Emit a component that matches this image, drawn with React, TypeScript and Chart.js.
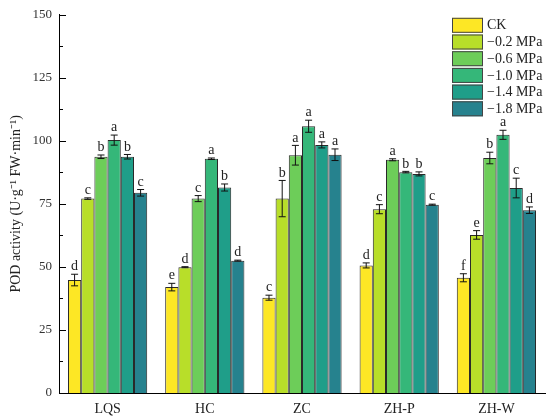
import React, { useRef, useEffect } from 'react';
import { Chart, registerables, Plugin } from 'chart.js';

Chart.register(...registerables);

const cultivars = ['LQS', 'HC', 'ZC', 'ZH-P', 'ZH-W'];
const treatments = ['CK', '\u22120.2 MPa', '\u22120.6 MPa', '\u22121.0 MPa', '\u22121.4 MPa', '\u22121.8 MPa'];
const colors = ['#FDE725', '#B8DE29', '#6DCD59', '#35B779', '#1F9E89', '#26828E'];

// values per treatment, one entry per cultivar
const ckValues = [44.8, 42.0, 37.8, 50.6, 45.7];
const mpa02Values = [77.1, 49.9, 77.1, 72.9, 62.7];
const mpa06Values = [93.7, 77.1, 94.3, 92.5, 93.2];
const mpa10Values = [100.3, 92.9, 105.8, 87.6, 102.4];
const mpa14Values = [93.7, 81.5, 98.4, 86.9, 81.3];
const mpa18Values = [79.4, 52.5, 94.5, 74.7, 72.5];

const ckErrors = [2.3, 1.5, 1.0, 1.0, 1.6];
const mpa02Errors = [0.3, 0.2, 7.2, 1.8, 1.7];
const mpa06Errors = [0.7, 1.2, 3.9, 0.4, 2.3];
const mpa10Errors = [2.0, 0.3, 2.4, 0.3, 1.8];
const mpa14Errors = [0.9, 1.4, 1.2, 0.8, 3.9];
const mpa18Errors = [1.3, 0.2, 2.3, 0.2, 1.3];

const ckLetters = ['d', 'e', 'c', 'd', 'f'];
const mpa02Letters = ['c', 'd', 'b', 'c', 'e'];
const mpa06Letters = ['b', 'c', 'a', 'a', 'b'];
const mpa10Letters = ['a', 'a', 'a', 'b', 'a'];
const mpa14Letters = ['b', 'b', 'a', 'b', 'c'];
const mpa18Letters = ['c', 'd', 'a', 'c', 'd'];

const yTicks = [0, 25, 50, 75, 100, 125, 150];

const seriesValues = [ckValues, mpa02Values, mpa06Values, mpa10Values, mpa14Values, mpa18Values];
const seriesErrors = [ckErrors, mpa02Errors, mpa06Errors, mpa10Errors, mpa14Errors, mpa18Errors];
const seriesLetters = [ckLetters, mpa02Letters, mpa06Letters, mpa10Letters, mpa14Letters, mpa18Letters];

const serif = "'Liberation Serif', 'Times New Roman', serif";

const errorBarPlugin: Plugin<'bar'> = {
  id: 'errorBars',
  afterDatasetsDraw(chart) {
    const { ctx } = chart;
    const y = chart.scales.y;
    ctx.save();
    chart.data.datasets.forEach((ds, di) => {
      const meta = chart.getDatasetMeta(di);
      meta.data.forEach((bar: any, i) => {
        const v = seriesValues[di][i];
        const e = seriesErrors[di][i];
        const top = y.getPixelForValue(v + e);
        const bot = y.getPixelForValue(v - e);
        const x = bar.x;
        ctx.strokeStyle = '#111';
        ctx.lineWidth = 1;
        ctx.beginPath();
        ctx.moveTo(x, top);
        ctx.lineTo(x, bot);
        ctx.moveTo(x - 3.5, top);
        ctx.lineTo(x + 3.5, top);
        ctx.moveTo(x - 3.5, bot);
        ctx.lineTo(x + 3.5, bot);
        ctx.stroke();
        ctx.fillStyle = '#222';
        ctx.font = `14px ${serif}`;
        ctx.textAlign = 'center';
        ctx.textBaseline = 'bottom';
        ctx.fillText(seriesLetters[di][i], x, top - 0.5);
      });
    });
    ctx.restore();
  },
};

const axisDecorPlugin: Plugin<'bar'> = {
  id: 'axisDecor',
  afterDraw(chart) {
    const { ctx, chartArea } = chart;
    const y = chart.scales.y;
    ctx.save();
    // inward y ticks, major every 25 and minor between
    ctx.strokeStyle = '#000';
    ctx.lineWidth = 1;
    ctx.beginPath();
    for (let i = 0; i < yTicks.length; i++) {
      const py = Math.round(y.getPixelForValue(yTicks[i])) + 0.5;
      ctx.moveTo(chartArea.left, py);
      ctx.lineTo(chartArea.left + 7, py);
      if (i < yTicks.length - 1) {
        const pm = Math.round(y.getPixelForValue((yTicks[i] + yTicks[i + 1]) / 2)) + 0.5;
        ctx.moveTo(chartArea.left, pm);
        ctx.lineTo(chartArea.left + 4, pm);
      }
    }
    ctx.stroke();

    // legend inside the top right corner
    const boxW = 31;
    const boxH = 15;
    const rowH = 16.7;
    const bx = chartArea.right - 93;
    const by = chartArea.top + 3;
    ctx.font = `14px ${serif}`;
    ctx.textAlign = 'left';
    ctx.textBaseline = 'middle';
    chart.data.datasets.forEach((ds, i) => {
      const ry = by + i * rowH;
      ctx.fillStyle = colors[i];
      ctx.fillRect(bx, ry, boxW, boxH);
      ctx.strokeStyle = '#444';
      ctx.strokeRect(bx + 0.5, ry + 0.5, boxW - 1, boxH - 1);
      ctx.fillStyle = '#222';
      ctx.fillText(String(ds.label), bx + boxW + 4, ry + boxH / 2 + 0.5);
    });
    ctx.restore();
  },
};

export default function App() {
  const chartRef = useRef<HTMLCanvasElement>(null);

  useEffect(() => {
    document.body.style.margin = '0';
    const ctx = chartRef.current?.getContext('2d');
    if (!ctx) return;
    const myChart = new Chart(ctx, {
      type: 'bar',
      data: {
        labels: cultivars,
        datasets: treatments.map((t, i) => ({
          label: t,
          data: seriesValues[i],
          backgroundColor: colors[i],
          borderColor: '#2a2a2a',
          borderWidth: 1,
          categoryPercentage: 0.815,
          barPercentage: 1,
        })),
      },
      options: {
        animation: false,
        responsive: false,
        devicePixelRatio: 1,
        layout: { padding: { left: 0, right: 5, top: 11, bottom: 0 } },
        plugins: {
          legend: { display: false },
          tooltip: { enabled: false },
        },
        scales: {
          x: {
            grid: { display: false, drawTicks: false },
            border: { display: true, color: '#000', width: 1 },
            ticks: { color: '#222', font: { family: serif, size: 14 }, padding: 8 },
            afterFit: (s: any) => { s.height = 25; },
          },
          y: {
            min: 0,
            max: 150,
            grid: { display: false, drawTicks: false },
            border: { display: true, color: '#000', width: 1 },
            afterBuildTicks: (s: any) => { s.ticks = yTicks.map((v) => ({ value: v })); },
            ticks: { color: '#333', font: { family: serif, size: 13 }, padding: 7 },
            title: {
              display: true,
              text: 'POD activity (U\u00b7g\u207b\u00b9 FW\u00b7min\u207b\u00b9)',
              color: '#222',
              font: { family: serif, size: 14 },
              padding: { top: 8, bottom: 4 },
            },
            afterFit: (s: any) => { s.width = 59; },
          },
        },
      },
      plugins: [errorBarPlugin, axisDecorPlugin],
    });
    return () => {
      myChart.destroy();
    };
  }, []);

  return (
    <div style={{ width: 550, height: 418, background: '#fff' }}>
      <canvas ref={chartRef} width={550} height={418}></canvas>
    </div>
  );
}
